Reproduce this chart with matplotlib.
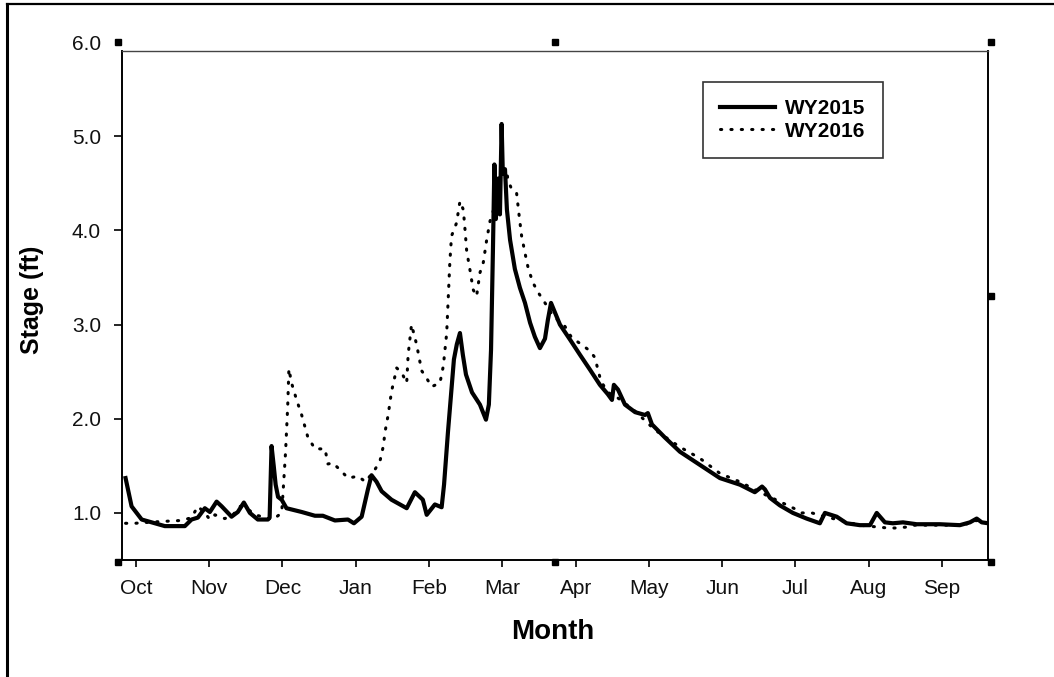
import matplotlib
matplotlib.use('Agg')
import matplotlib.pyplot as plt
from matplotlib.lines import Line2D
import matplotlib.transforms as mtransforms

plt.rcParams['font.family'] = ['Liberation Sans', 'DejaVu Sans']

# --- Datos (dias desde el 1 de octubre, nivel en ft) ---
dias_2015 = [-4.3, -1.8, 2.4, 7.9, 12.0, 20.3, 23.1, 25.7, 28.6, 30.7, 33.5, 35.6, 39.7, 42.3,
             44.8, 47.3, 50.6, 54.8, 55.5, 56.3, 57.2, 58.0, 59.0, 60.5, 62.5, 68.8, 74.3, 77.6,
             82.6, 88.0, 90.5, 93.7, 96.3, 97.8, 99.9, 102.0, 106.1, 112.4, 115.8, 119.1, 120.7,
             124.1, 126.9, 127.9, 129.5, 132.0, 133.2, 134.5, 135.7, 137.0, 139.5, 142.8, 145.3,
             146.5, 147.4, 148.2, 148.8, 149.4, 150.3, 151.1, 151.8, 152.3, 153.2, 154.0, 155.3,
             157.3, 159.4, 161.5, 163.6, 165.6, 167.7, 169.8, 171.0, 172.3, 176.0, 180.2, 184.3,
             188.5, 192.6, 195.9, 197.6, 198.4, 200.1, 203.0, 207.2, 211.3, 212.5, 214.2, 219.6,
             225.8, 234.1, 242.4, 250.7, 256.9, 259.9, 261.1, 263.2, 267.3, 272.7, 278.4, 283.9,
             286.0, 290.9, 295.0, 300.5, 304.7, 307.5, 310.9, 314.2, 318.4, 324.1, 333.7, 342.0,
             346.2, 349.0, 351.1, 353.8]
nivel_2015 = [1.37, 1.07, 0.93, 0.89, 0.86, 0.86, 0.93, 0.95, 1.05, 1.01, 1.12, 1.07, 0.96, 1.01,
              1.11, 1.00, 0.93, 0.93, 0.95, 1.71, 1.50, 1.30, 1.17, 1.14, 1.05, 1.01, 0.97, 0.97,
              0.92, 0.93, 0.89, 0.96, 1.25, 1.40, 1.33, 1.23, 1.14, 1.05, 1.22, 1.14, 0.98,
              1.09, 1.06, 1.30, 1.85, 2.63, 2.79, 2.91, 2.68, 2.47, 2.28, 2.15, 1.99,
              2.15, 2.73, 3.80, 4.70, 4.12, 4.55, 4.17, 5.13, 4.60, 4.65, 4.22, 3.90,
              3.59, 3.39, 3.23, 3.02, 2.87, 2.75, 2.85, 3.05, 3.23, 3.00, 2.84, 2.68,
              2.52, 2.36, 2.26, 2.20, 2.36, 2.31, 2.15, 2.07, 2.04, 2.06, 1.94, 1.80,
              1.65, 1.51, 1.37, 1.30, 1.22, 1.28, 1.25, 1.16, 1.08, 1.00, 0.94, 0.89,
              1.00, 0.96, 0.89, 0.87, 0.87, 1.00, 0.90, 0.89, 0.90, 0.88, 0.88, 0.87,
              0.90, 0.94, 0.90, 0.89]

dias_2016 = [-4.3, -0.4, 5.0, 11.2, 19.0, 23.1, 25.7, 28.6, 30.7, 32.8, 36.9, 40.3, 43.2, 46.0,
             49.4, 56.9, 60.5, 61.1, 62.1, 63.0, 63.5, 64.6, 66.7, 68.8, 71.3, 74.3, 78.5, 79.7,
             81.8, 85.4, 88.0, 92.2, 95.3, 99.2, 101.3, 102.7, 103.4, 104.7, 106.1, 107.5, 108.2,
             110.3, 112.4, 113.0, 114.4, 116.5, 118.6, 120.7, 122.7, 126.2, 127.6, 129.0, 130.3,
             131.0, 133.1, 134.5, 135.9, 136.6, 137.3, 138.6, 140.0, 141.4, 142.8, 144.2, 145.6,
             147.0, 149.5, 151.5, 153.8, 154.4, 155.9, 158.0, 159.1, 160.1, 161.5, 162.9, 164.9,
             167.0, 169.8, 173.2, 178.1, 180.9, 184.3, 188.5, 190.5, 193.0, 195.9, 200.1, 207.2,
             215.5, 225.8, 234.1, 242.4, 250.7, 259.0, 267.3, 273.0, 276.5, 280.6, 283.2, 290.9,
             300.5, 308.0, 312.2, 315.7, 319.9, 323.4, 333.7, 342.0, 346.2, 349.0, 353.8]
nivel_2016 = [0.89, 0.89, 0.90, 0.91, 0.92, 0.95, 1.07, 1.00, 0.93, 0.98, 0.94, 0.98, 1.07, 1.05,
              0.98, 0.93, 1.00, 1.23, 1.64, 2.13, 2.53, 2.38, 2.20, 2.04, 1.81, 1.68, 1.68, 1.52,
              1.53, 1.44, 1.37, 1.39, 1.33, 1.46, 1.55, 1.71, 1.86, 2.04, 2.29, 2.45, 2.54,
              2.49, 2.38, 2.68, 3.00, 2.79, 2.51, 2.43, 2.34, 2.38, 2.56, 2.91, 3.66,
              3.94, 4.08, 4.31, 4.22, 4.01, 3.78, 3.59, 3.37, 3.30, 3.55, 3.66, 3.90,
              4.10, 4.30, 4.55, 4.65, 4.54, 4.44, 4.40, 4.15, 3.94, 3.76, 3.59, 3.44,
              3.34, 3.23, 3.09, 2.98, 2.86, 2.80, 2.72, 2.65, 2.40, 2.28, 2.22, 2.08,
              1.88, 1.70, 1.58, 1.42, 1.33, 1.22, 1.12, 1.05, 1.00, 1.00, 0.98, 0.93,
              0.87, 0.85, 0.84, 0.84, 0.85, 0.87, 0.87, 0.87, 0.89, 0.92, 0.89]

meses = ['Oct', 'Nov', 'Dec', 'Jan', 'Feb', 'Mar', 'Apr', 'May', 'Jun', 'Jul', 'Aug', 'Sep']
pos_meses = [i * 365.0 / 12 for i in range(len(meses))]
ticks_y = [1.0, 2.0, 3.0, 4.0, 5.0]

# --- Figura ---
fig = plt.figure(figsize=(10.54, 6.77), dpi=100)
ax = fig.add_axes([0.1157, 0.1728, 0.8217, 0.7519])

ax.plot(dias_2015, nivel_2015, color='black', linewidth=3.0, solid_joinstyle='round',
        label='WY2015')
ax.plot(dias_2016, nivel_2016, color='black', linewidth=2.2, linestyle=(0, (0.4, 3.0)),
        dash_capstyle='round', label='WY2016')

ax.set_xlim(-5.8, 353.7)
ax.set_ylim(0.5, 5.905)

ax.set_xticks(pos_meses)
ax.set_xticklabels(meses)
ax.set_yticks(ticks_y)
ax.set_yticklabels(['%.1f' % v for v in ticks_y])
ax.tick_params(axis='x', direction='out', length=5, width=1.2, pad=9, labelsize=15,
               top=False, labelcolor='#111111')
ax.tick_params(axis='y', direction='out', length=6, width=1.2, pad=9, labelsize=15,
               right=False, labelcolor='#111111')

for lado in ['left', 'bottom', 'right']:
    ax.spines[lado].set_linewidth(1.4)
    ax.spines[lado].set_color('black')
ax.spines['top'].set_linewidth(1.0)
ax.spines['top'].set_color('#444444')

# etiqueta 6.0 (fuera de los limites del eje)
trans_lab, va_lab, ha_lab = ax.get_yaxis_text1_transform(9 + 6)
ax.text(0, 6.0, '6.0', transform=trans_lab, va=va_lab, ha=ha_lab, fontsize=15,
        color='#111111', clip_on=False)

# pequenos cuadrados en las esquinas (estilo SigmaPlot)
tr_top = mtransforms.blended_transform_factory(ax.transAxes, ax.transData)
ax.plot([-0.005, 0.5, 1.004], [6.0, 6.0, 6.0], 's', color='black', markersize=4.2,
        transform=tr_top, clip_on=False)
ax.plot([-0.005, 0.5, 1.004], [0.48, 0.48, 0.48], 's', color='black', markersize=4.2,
        transform=tr_top, clip_on=False)
ax.plot([1.004], [3.3], 's', color='black', markersize=4.2, transform=tr_top, clip_on=False)

# leyenda
leg = ax.legend(loc='upper left', bbox_to_anchor=(0.6667, 0.8793),
                bbox_transform=fig.transFigure, borderaxespad=0,
                prop={'weight': 'bold', 'size': 15}, handlelength=2.6, handletextpad=0.5,
                labelspacing=0.15, borderpad=0.85, fancybox=False, framealpha=1)
leg.get_frame().set_edgecolor('#333333')
leg.get_frame().set_linewidth(1.2)

# etiquetas de ejes
fig.text(0.5247, 0.0665, 'Month', ha='center', va='center', fontsize=20, fontweight='bold')
fig.text(0.0304, 0.557, 'Stage (ft)', ha='center', va='center', rotation=90, fontsize=18,
         fontweight='bold')

# marco exterior (solo izquierda y arriba visibles)
fig.add_artist(Line2D([0.0063, 0.0063], [0.0, 0.9945], transform=fig.transFigure,
                      color='black', linewidth=2.2))
fig.add_artist(Line2D([0.0063, 1.0], [0.9945, 0.9945], transform=fig.transFigure,
                      color='black', linewidth=1.6))

fig.savefig('out.png', dpi=100)
